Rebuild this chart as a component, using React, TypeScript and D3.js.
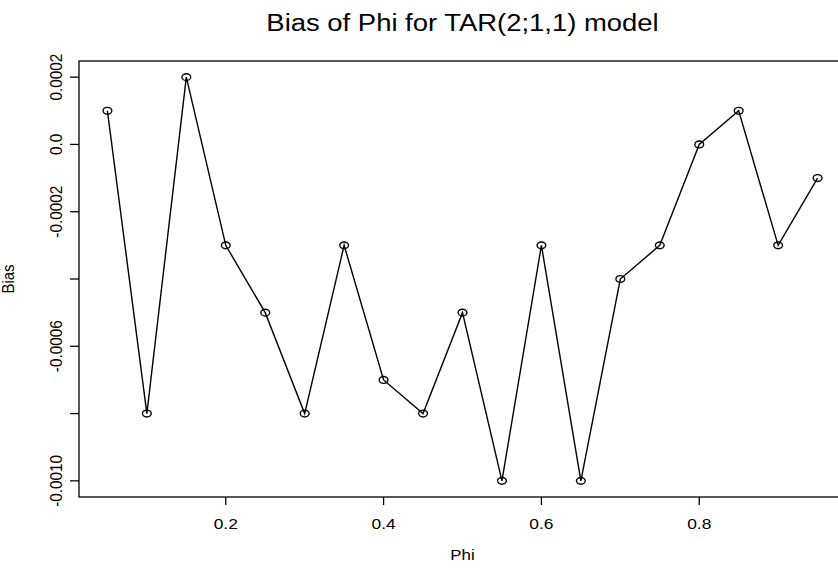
import React, { useEffect, useRef } from "react";
import * as d3 from "d3";

const phi = [0.05, 0.1, 0.15, 0.2, 0.25, 0.3, 0.35, 0.4, 0.45, 0.5, 0.55, 0.6, 0.65, 0.7, 0.75, 0.8, 0.85, 0.9, 0.95];
const bias = [0.0001, -0.0008, 0.0002, -0.0003, -0.0005, -0.0008, -0.0003, -0.0007, -0.0008, -0.0005, -0.001, -0.0003, -0.001, -0.0004, -0.0003, 0.0, 0.0001, -0.0003, -0.0001];
const xTicks = [0.2, 0.4, 0.6, 0.8];
const yTicks = [0.0002, 0.0, -0.0002, -0.0004, -0.0006, -0.0008, -0.001];
const yTickLabels = ["0.0002", "0.0", "-0.0002", "", "-0.0006", "", "-0.0010"];
const title = "Bias of Phi for TAR(2;1,1) model";
const xLabel = "Phi";
const yLabel = "Bias";

const W = 838, H = 568;
const left = 79, right = 846, top = 61, bottom = 497;
const SX = 1.12;

export default function App() {
  const ref = useRef<SVGSVGElement>(null);
  useEffect(() => {
    const svg = d3.select(ref.current);
    svg.selectAll("*").remove();
    const font = "'Liberation Sans', Arial, sans-serif";
    const xs = d3.scaleLinear().domain([0.014, 0.986]).range([left, right]);
    const ys = d3.scaleLinear().domain([-0.001048, 0.000248]).range([bottom, top]);

    svg.append("rect").attr("x", 0).attr("y", 0).attr("width", W).attr("height", H).attr("fill", "white");

    // box
    svg.append("rect").attr("x", left).attr("y", top).attr("width", right - left).attr("height", bottom - top)
      .attr("fill", "none").attr("stroke", "black").attr("stroke-width", 1.3);

    // x axis
    const xa = svg.append("g");
    xa.selectAll("line").data(xTicks).join("line")
      .attr("x1", d => xs(d)).attr("x2", d => xs(d)).attr("y1", bottom).attr("y2", bottom + 8)
      .attr("stroke", "black").attr("stroke-width", 1.3);
    xa.selectAll("text").data(xTicks).join("text")
      .attr("transform", d => `translate(${xs(d)},${bottom + 32}) scale(${SX},1)`)
      .attr("text-anchor", "middle")
      .attr("font-family", font).attr("font-size", 15.5).text(d => d.toFixed(1));

    // y axis
    const ya = svg.append("g");
    ya.selectAll("line").data(yTicks).join("line")
      .attr("x1", left - 9).attr("x2", left).attr("y1", d => ys(d)).attr("y2", d => ys(d))
      .attr("stroke", "black").attr("stroke-width", 1.3);
    ya.selectAll("text").data(yTicks).join("text")
      .attr("transform", d => `translate(${left - 17},${ys(d)}) scale(${SX},1) rotate(-90)`)
      .attr("text-anchor", "middle")
      .attr("font-family", font).attr("font-size", 15.3).text((d, i) => yTickLabels[i]);

    // line
    const pts = phi.map((p, i) => [p, bias[i]] as [number, number]);
    const line = d3.line<[number, number]>().x(d => xs(d[0])).y(d => ys(d[1]));
    svg.append("path").attr("d", line(pts)).attr("fill", "none").attr("stroke", "black").attr("stroke-width", 1.4);

    svg.append("g").selectAll("ellipse").data(pts).join("ellipse")
      .attr("cx", d => xs(d[0])).attr("cy", d => ys(d[1])).attr("rx", 4.4).attr("ry", 3.4)
      .attr("fill", "none").attr("stroke", "black").attr("stroke-width", 1.4);

    // titles
    svg.append("text").attr("transform", `translate(${(left + right) / 2},31) scale(${SX},1)`).attr("text-anchor", "middle")
      .attr("font-family", font).attr("font-size", 24.5).text(title);
    svg.append("text").attr("transform", `translate(${(left + right) / 2},560) scale(${SX},1)`).attr("text-anchor", "middle")
      .attr("font-family", font).attr("font-size", 15).text(xLabel);
    svg.append("text").attr("transform", `translate(13.5,${(top + bottom) / 2}) scale(${SX},1) rotate(-90)`).attr("text-anchor", "middle")
      .attr("font-family", font).attr("font-size", 15).text(yLabel);
  }, []);
  return (
    <svg ref={ref} width={W} height={H} style={{ position: "absolute", left: 0, top: 0 }} />
  );
}
